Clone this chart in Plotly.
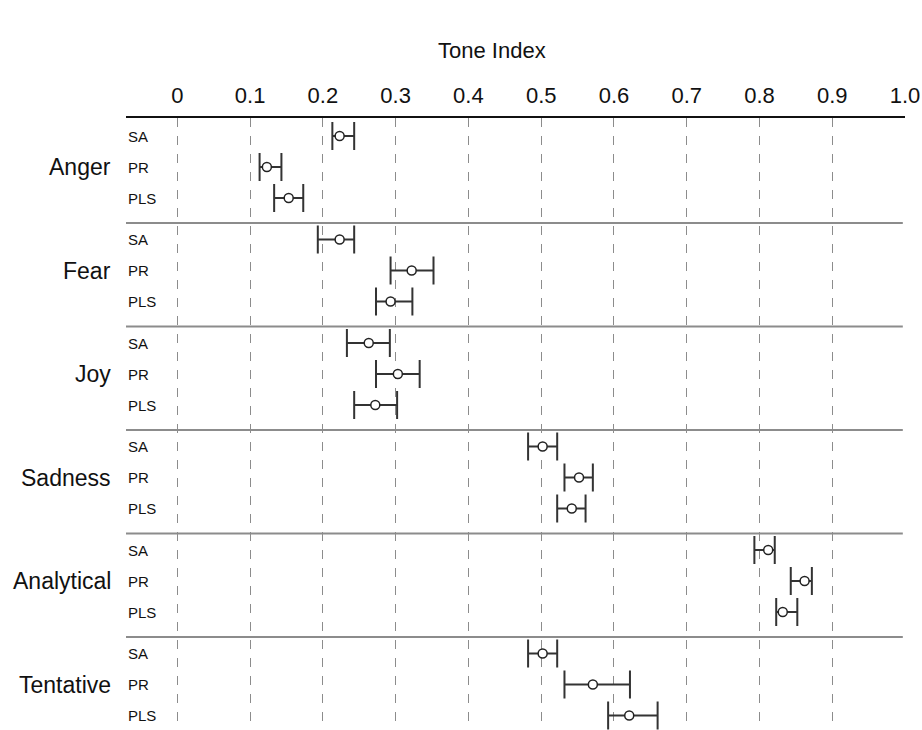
import plotly.graph_objects as go

categories = ["Anger", "Fear", "Joy", "Sadness", "Analytical", "Tentative"]
series = ["SA", "PR", "PLS"]

# mean tone index per category, per series (SA, PR, PLS)
means = [
    [0.223, 0.123, 0.153],
    [0.223, 0.322, 0.293],
    [0.263, 0.303, 0.272],
    [0.502, 0.552, 0.542],
    [0.812, 0.862, 0.832],
    [0.502, 0.571, 0.621],
]
lows = [
    [0.213, 0.113, 0.133],
    [0.193, 0.293, 0.273],
    [0.233, 0.273, 0.243],
    [0.482, 0.532, 0.522],
    [0.793, 0.843, 0.823],
    [0.482, 0.532, 0.592],
]
highs = [
    [0.243, 0.143, 0.173],
    [0.243, 0.352, 0.323],
    [0.292, 0.333, 0.302],
    [0.522, 0.571, 0.561],
    [0.821, 0.872, 0.852],
    [0.522, 0.622, 0.660],
]
x_ticks = [0, 0.1, 0.2, 0.3, 0.4, 0.5, 0.6, 0.7, 0.8, 0.9, 1.0]
x_tick_labels = ["0", "0.1", "0.2", "0.3", "0.4", "0.5", "0.6", "0.7", "0.8", "0.9", "1.0"]

# layout geometry (vertical positions in page pixels)
TOP, BOTTOM = 118, 730
FIRST_ROW = 136
GROUP_STEP = 103.5
ROW_STEP = 31

xs, ys, plus, minus = [], [], [], []
for g, cat in enumerate(categories):
    for r, s in enumerate(series):
        m = means[g][r]
        xs.append(m)
        ys.append(FIRST_ROW + g * GROUP_STEP + r * ROW_STEP)
        plus.append(highs[g][r] - m)
        minus.append(m - lows[g][r])

fig = go.Figure()
fig.add_trace(go.Scatter(
    x=xs, y=ys, mode="markers",
    marker=dict(symbol="circle", size=9, color="white",
                line=dict(color="#222222", width=1.5)),
    error_x=dict(type="data", symmetric=False, array=plus, arrayminus=minus,
                 color="#333333", thickness=2, width=14),
    showlegend=False, hoverinfo="x",
))

XMIN = -0.0706
shapes = []
for g in range(1, len(categories)):
    yy = FIRST_ROW + g * GROUP_STEP - 16.5
    shapes.append(dict(type="line", xref="x", yref="y", x0=XMIN, x1=0.997,
                       y0=yy, y1=yy, line=dict(color="#8c8c8c", width=2)))

annotations = []
for g, cat in enumerate(categories):
    yc = FIRST_ROW + g * GROUP_STEP + ROW_STEP
    annotations.append(dict(text=cat, xref="paper", yref="y", x=0, y=yc,
                            xanchor="right", yanchor="middle", xshift=-13,
                            showarrow=False,
                            font=dict(size=23, color="#111111")))
    for r, s in enumerate(series):
        annotations.append(dict(text=s, xref="paper", yref="y", x=0,
                                y=FIRST_ROW + g * GROUP_STEP + r * ROW_STEP,
                                xanchor="left", yanchor="middle", xshift=0,
                                showarrow=False,
                                font=dict(size=15, color="#111111")))

annotations.append(dict(text="Tone Index", xref="paper", yref="paper",
                        x=0.47, y=1, yshift=68, xanchor="center",
                        yanchor="middle", showarrow=False,
                        font=dict(size=22, color="#111111")))

fig.update_layout(
    width=922, height=730,
    margin=dict(l=126, r=17, t=TOP, b=0),
    paper_bgcolor="white", plot_bgcolor="white",
    font=dict(family="Liberation Sans, Arial, sans-serif", color="#111111"),
    shapes=shapes, annotations=annotations,
    xaxis=dict(side="top", range=[XMIN, 1.0], tickvals=x_ticks,
               ticktext=x_tick_labels, showline=True, linecolor="#111111",
               linewidth=2, showgrid=True, gridcolor="#8c8c8c", gridwidth=1,
               griddash="dash", zeroline=False, ticks="", ticklabelstandoff=4,
               tickfont=dict(size=22, color="#111111"), fixedrange=True,
               automargin=False, ticklabeloverflow="allow"),
    yaxis=dict(range=[BOTTOM, TOP], showgrid=False, zeroline=False,
               showticklabels=False, showline=False, fixedrange=True),
)

post = ("document.documentElement.style.margin='0';"
        "document.documentElement.style.overflow='hidden';"
        "document.body.style.margin='0';"
        "document.body.style.overflow='hidden';")

fig.write_html("out.html", post_script=post, config={"displayModeBar": False})
